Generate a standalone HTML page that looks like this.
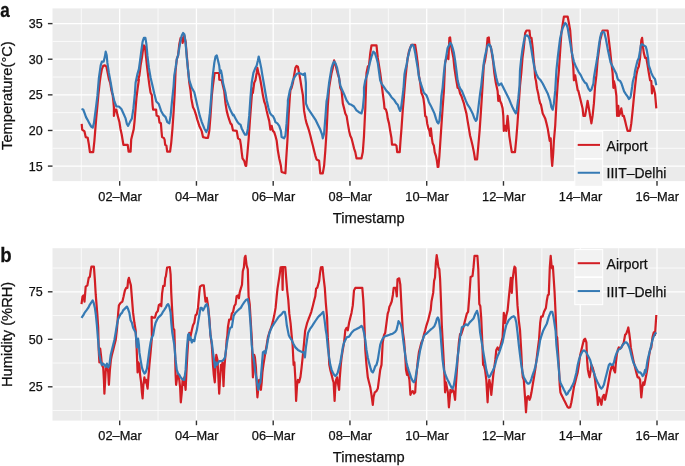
<!DOCTYPE html>
<html><head><meta charset="utf-8"><style>
html,body{margin:0;padding:0;background:#fff;}
svg{display:block;filter:blur(0.3px);}
text{font-family:"Liberation Sans", sans-serif;fill:#111;stroke:#111;stroke-width:0.25px;}
</style></head><body>
<svg width="685" height="466" viewBox="0 0 685 466">
<defs>
<clipPath id="ca"><rect x="52.5" y="8.4" width="632.5" height="172.7"/></clipPath>
<clipPath id="cb"><rect x="52.5" y="248.2" width="632.5" height="172.40000000000003"/></clipPath>
</defs>
<rect x="52.5" y="8.4" width="632.5" height="172.7" fill="#EBEBEB"/>
<line x1="52.5" x2="685.0" y1="148.29" y2="148.29" stroke="#fff" stroke-width="0.75"/>
<line x1="52.5" x2="685.0" y1="112.66" y2="112.66" stroke="#fff" stroke-width="0.75"/>
<line x1="52.5" x2="685.0" y1="77.04" y2="77.04" stroke="#fff" stroke-width="0.75"/>
<line x1="52.5" x2="685.0" y1="41.41" y2="41.41" stroke="#fff" stroke-width="0.75"/>
<line x1="81.30" x2="81.30" y1="8.4" y2="181.1" stroke="#fff" stroke-width="0.75"/>
<line x1="158.06" x2="158.06" y1="8.4" y2="181.1" stroke="#fff" stroke-width="0.75"/>
<line x1="234.82" x2="234.82" y1="8.4" y2="181.1" stroke="#fff" stroke-width="0.75"/>
<line x1="311.58" x2="311.58" y1="8.4" y2="181.1" stroke="#fff" stroke-width="0.75"/>
<line x1="388.34" x2="388.34" y1="8.4" y2="181.1" stroke="#fff" stroke-width="0.75"/>
<line x1="465.10" x2="465.10" y1="8.4" y2="181.1" stroke="#fff" stroke-width="0.75"/>
<line x1="541.86" x2="541.86" y1="8.4" y2="181.1" stroke="#fff" stroke-width="0.75"/>
<line x1="618.62" x2="618.62" y1="8.4" y2="181.1" stroke="#fff" stroke-width="0.75"/>
<line x1="52.5" x2="685.0" y1="166.10" y2="166.10" stroke="#fff" stroke-width="1.3"/>
<line x1="52.5" x2="685.0" y1="130.47" y2="130.47" stroke="#fff" stroke-width="1.3"/>
<line x1="52.5" x2="685.0" y1="94.85" y2="94.85" stroke="#fff" stroke-width="1.3"/>
<line x1="52.5" x2="685.0" y1="59.22" y2="59.22" stroke="#fff" stroke-width="1.3"/>
<line x1="52.5" x2="685.0" y1="23.60" y2="23.60" stroke="#fff" stroke-width="1.3"/>
<line x1="119.68" x2="119.68" y1="8.4" y2="181.1" stroke="#fff" stroke-width="1.3"/>
<line x1="196.44" x2="196.44" y1="8.4" y2="181.1" stroke="#fff" stroke-width="1.3"/>
<line x1="273.20" x2="273.20" y1="8.4" y2="181.1" stroke="#fff" stroke-width="1.3"/>
<line x1="349.96" x2="349.96" y1="8.4" y2="181.1" stroke="#fff" stroke-width="1.3"/>
<line x1="426.72" x2="426.72" y1="8.4" y2="181.1" stroke="#fff" stroke-width="1.3"/>
<line x1="503.48" x2="503.48" y1="8.4" y2="181.1" stroke="#fff" stroke-width="1.3"/>
<line x1="580.24" x2="580.24" y1="8.4" y2="181.1" stroke="#fff" stroke-width="1.3"/>
<line x1="657.00" x2="657.00" y1="8.4" y2="181.1" stroke="#fff" stroke-width="1.3"/>
<rect x="52.5" y="248.2" width="632.5" height="172.40000000000003" fill="#EBEBEB"/>
<line x1="52.5" x2="685.0" y1="410.55" y2="410.55" stroke="#fff" stroke-width="0.75"/>
<line x1="52.5" x2="685.0" y1="363.05" y2="363.05" stroke="#fff" stroke-width="0.75"/>
<line x1="52.5" x2="685.0" y1="315.55" y2="315.55" stroke="#fff" stroke-width="0.75"/>
<line x1="52.5" x2="685.0" y1="268.05" y2="268.05" stroke="#fff" stroke-width="0.75"/>
<line x1="81.30" x2="81.30" y1="248.2" y2="420.6" stroke="#fff" stroke-width="0.75"/>
<line x1="158.06" x2="158.06" y1="248.2" y2="420.6" stroke="#fff" stroke-width="0.75"/>
<line x1="234.82" x2="234.82" y1="248.2" y2="420.6" stroke="#fff" stroke-width="0.75"/>
<line x1="311.58" x2="311.58" y1="248.2" y2="420.6" stroke="#fff" stroke-width="0.75"/>
<line x1="388.34" x2="388.34" y1="248.2" y2="420.6" stroke="#fff" stroke-width="0.75"/>
<line x1="465.10" x2="465.10" y1="248.2" y2="420.6" stroke="#fff" stroke-width="0.75"/>
<line x1="541.86" x2="541.86" y1="248.2" y2="420.6" stroke="#fff" stroke-width="0.75"/>
<line x1="618.62" x2="618.62" y1="248.2" y2="420.6" stroke="#fff" stroke-width="0.75"/>
<line x1="52.5" x2="685.0" y1="386.80" y2="386.80" stroke="#fff" stroke-width="1.3"/>
<line x1="52.5" x2="685.0" y1="339.30" y2="339.30" stroke="#fff" stroke-width="1.3"/>
<line x1="52.5" x2="685.0" y1="291.80" y2="291.80" stroke="#fff" stroke-width="1.3"/>
<line x1="119.68" x2="119.68" y1="248.2" y2="420.6" stroke="#fff" stroke-width="1.3"/>
<line x1="196.44" x2="196.44" y1="248.2" y2="420.6" stroke="#fff" stroke-width="1.3"/>
<line x1="273.20" x2="273.20" y1="248.2" y2="420.6" stroke="#fff" stroke-width="1.3"/>
<line x1="349.96" x2="349.96" y1="248.2" y2="420.6" stroke="#fff" stroke-width="1.3"/>
<line x1="426.72" x2="426.72" y1="248.2" y2="420.6" stroke="#fff" stroke-width="1.3"/>
<line x1="503.48" x2="503.48" y1="248.2" y2="420.6" stroke="#fff" stroke-width="1.3"/>
<line x1="580.24" x2="580.24" y1="248.2" y2="420.6" stroke="#fff" stroke-width="1.3"/>
<line x1="657.00" x2="657.00" y1="248.2" y2="420.6" stroke="#fff" stroke-width="1.3"/>
<g fill="none" stroke-width="2.2" stroke-linejoin="round" clip-path="url(#ca)">
<path d="M81.7,123.9 L82.2,129.6 L84.5,131.4 L85.7,137.1 L87.7,137.8 L88.9,144.6 L89.9,152.1 L93.2,152.1 L94.4,140.8 L96.2,118.4 L97.4,105.9 L98.4,94.7 L99.9,81.0 L100.7,75.4 L101.9,69.1 L103.2,65.9 L104.9,65.4 L106.4,66.6 L107.4,71.6 L108.9,79.1 L110.2,82.8 L111.4,90.3 L112.7,95.3 L113.4,101.5 L113.9,107.8 L113.9,115.9 L114.9,109.7 L116.4,109.7 L117.4,114.6 L119.4,122.0 L120.5,129.0 L121.7,134.5 L123.4,144.8 L127.7,144.8 L128.6,151.7 L130.6,151.7 L131.2,139.6 L132.4,134.5 L133.7,129.3 L134.6,120.8 L136.4,98.4 L137.6,88.5 L138.9,79.7 L138.1,80.3 L139.4,75.4 L140.6,65.4 L141.9,57.9 L143.1,49.2 L143.9,45.4 L144.9,46.7 L145.9,55.4 L146.9,65.4 L148.1,75.4 L149.4,85.3 L150.6,92.8 L151.8,95.0 L152.6,105.3 L153.1,109.6 L156.1,109.6 L156.6,115.6 L158.6,116.5 L159.5,122.5 L160.9,123.3 L161.5,131.1 L162.1,137.1 L163.8,137.9 L164.6,139.6 L165.2,144.8 L166.4,145.6 L167.2,151.7 L170.1,151.7 L171.2,143.1 L172.4,129.3 L173.6,112.2 L174.6,95.0 L175.6,70.4 L176.8,59.1 L178.1,55.4 L179.3,44.2 L180.6,37.9 L181.8,37.4 L182.6,42.9 L183.6,39.2 L184.3,35.4 L185.6,41.7 L186.8,55.4 L188.1,70.4 L189.3,82.8 L190.5,90.3 L191.3,98.4 L193.0,107.2 L194.3,109.7 L196.3,115.9 L197.3,119.6 L199.3,125.9 L200.5,128.4 L201.8,131.4 L203.0,137.1 L205.5,137.8 L208.0,137.8 L209.3,130.9 L210.5,115.9 L211.8,95.9 L213.0,85.0 L214.6,73.0 L219.0,73.0 L219.3,79.7 L221.7,80.3 L223.0,86.0 L224.2,90.9 L225.5,103.4 L226.7,110.9 L228.0,115.9 L229.2,119.6 L230.5,123.4 L231.7,124.6 L233.0,130.4 L236.7,130.9 L238.0,138.3 L240.0,139.6 L241.0,145.8 L241.7,152.1 L242.5,158.3 L244.2,160.8 L245.5,165.8 L246.2,165.8 L247.4,153.3 L248.7,138.3 L249.9,120.9 L251.2,103.4 L252.4,88.5 L252.9,92.8 L254.2,82.8 L255.4,80.3 L256.7,72.9 L257.4,67.9 L258.4,72.9 L259.4,75.4 L260.4,80.3 L261.7,87.8 L262.9,95.3 L264.2,101.5 L265.4,104.7 L266.7,110.9 L267.9,115.9 L269.2,120.9 L270.4,129.6 L271.7,125.9 L272.9,130.9 L274.2,132.1 L275.4,135.8 L276.7,140.8 L277.9,150.8 L279.2,158.3 L280.9,165.8 L281.6,172.0 L285.4,173.3 L286.1,160.8 L287.4,140.8 L288.6,115.9 L289.9,95.9 L290.4,90.3 L291.6,87.8 L292.9,82.8 L294.1,75.4 L295.4,67.9 L296.6,65.9 L297.9,66.6 L299.1,72.9 L300.4,80.3 L301.6,87.8 L302.9,95.3 L304.1,110.9 L305.4,118.4 L306.6,123.4 L307.9,127.1 L309.1,130.9 L310.4,135.8 L311.6,140.8 L312.9,145.8 L314.1,150.8 L315.4,155.8 L316.6,159.5 L319.1,160.8 L320.3,173.3 L322.8,173.3 L324.1,165.8 L325.3,150.8 L326.6,130.9 L327.8,105.9 L329.1,87.8 L330.3,80.3 L331.6,72.9 L332.8,67.9 L334.1,60.4 L335.3,64.1 L336.6,69.1 L337.8,74.1 L339.1,77.8 L340.3,87.8 L341.6,90.9 L342.8,103.4 L344.1,108.4 L345.3,113.4 L346.6,115.9 L347.8,123.4 L349.1,130.9 L350.3,135.8 L351.5,138.3 L352.8,143.3 L354.0,148.3 L355.3,152.1 L356.5,158.3 L361.5,158.3 L362.8,152.1 L364.0,135.8 L365.3,108.4 L366.5,72.9 L367.8,66.6 L369.0,65.4 L370.3,52.9 L371.5,45.4 L376.5,45.4 L377.8,57.9 L380.2,72.9 L381.5,82.8 L382.7,92.8 L384.0,102.8 L384.5,108.4 L386.0,109.7 L387.0,113.4 L387.7,118.4 L389.0,123.4 L390.2,130.9 L391.5,138.3 L392.0,144.6 L395.2,144.6 L396.5,145.8 L397.2,152.1 L399.7,152.1 L400.5,140.8 L401.5,128.4 L402.7,110.9 L404.0,95.9 L405.2,81.0 L406.5,67.9 L407.7,57.9 L408.9,51.7 L410.2,47.9 L411.4,44.9 L415.2,44.9 L416.4,52.9 L417.7,62.9 L418.9,75.4 L420.2,82.8 L421.4,92.8 L422.7,95.9 L423.4,98.4 L424.4,105.9 L425.2,115.9 L426.4,117.1 L427.2,123.4 L428.4,128.4 L429.4,130.9 L430.2,135.8 L430.9,128.4 L431.9,138.3 L432.7,143.3 L433.9,145.8 L434.7,152.1 L435.9,155.8 L436.9,160.8 L437.7,167.0 L438.4,167.0 L439.4,155.8 L440.4,140.8 L441.4,125.9 L442.6,108.4 L443.9,90.9 L445.1,62.9 L446.4,57.9 L447.6,55.4 L448.4,59.1 L449.4,37.9 L450.1,37.4 L450.9,45.4 L451.9,50.4 L453.4,57.9 L454.4,67.9 L455.9,77.8 L457.6,87.8 L458.9,88.5 L460.1,93.4 L461.4,95.9 L462.6,99.7 L463.9,103.4 L465.1,108.4 L466.4,113.4 L467.6,120.9 L468.9,128.4 L470.1,135.8 L471.4,140.8 L472.6,145.8 L473.9,152.1 L475.1,159.5 L477.1,159.5 L478.3,145.8 L479.6,130.9 L480.8,113.4 L482.1,93.4 L483.8,65.4 L485.1,60.4 L486.3,52.9 L487.6,37.9 L488.8,37.4 L489.6,45.4 L490.8,46.7 L491.8,52.9 L493.3,62.9 L494.3,72.9 L495.8,82.8 L497.6,90.9 L498.3,100.9 L499.3,95.9 L500.1,100.9 L501.3,103.4 L502.6,108.4 L503.3,115.9 L503.8,130.9 L505.1,125.9 L506.3,130.9 L507.6,115.9 L508.3,123.4 L509.3,135.8 L510.8,145.8 L511.8,152.1 L515.0,152.1 L516.3,138.3 L517.5,123.4 L518.8,103.4 L520.0,86.0 L521.3,72.9 L522.5,57.9 L523.8,47.9 L525.2,32.9 L526.5,30.5 L529.5,30.5 L530.2,37.9 L531.5,37.9 L532.7,47.9 L533.5,57.9 L534.5,67.9 L535.2,77.8 L536.0,81.0 L537.0,88.5 L538.2,93.4 L539.0,98.4 L540.2,103.4 L541.0,104.7 L542.0,109.7 L542.7,113.4 L544.0,115.9 L545.2,118.4 L546.5,123.4 L547.7,128.4 L548.9,135.8 L549.7,140.8 L550.7,138.3 L551.4,155.8 L552.2,165.8 L553.2,153.3 L553.9,140.8 L555.2,125.9 L556.4,103.4 L557.7,83.5 L558.9,70.4 L560.2,50.4 L561.4,32.9 L562.7,24.2 L563.9,16.7 L567.7,16.7 L568.9,23.0 L570.2,30.5 L570.9,40.4 L571.9,52.9 L573.2,65.4 L573.9,80.3 L575.2,75.4 L576.4,82.8 L577.7,90.3 L578.4,90.9 L580.2,98.4 L581.4,103.4 L582.6,108.4 L583.4,115.9 L585.1,115.9 L586.4,108.4 L587.6,100.9 L588.9,108.4 L590.1,115.9 L591.4,123.4 L592.6,115.9 L593.9,103.4 L595.1,86.0 L596.4,75.4 L597.6,60.4 L598.9,50.4 L600.1,40.4 L601.4,35.4 L602.6,30.5 L607.6,30.5 L608.9,40.4 L610.1,50.4 L611.4,62.9 L612.6,72.9 L613.4,87.8 L613.9,81.0 L615.1,86.0 L616.4,95.9 L617.1,115.9 L618.3,105.9 L618.8,115.9 L620.1,113.4 L621.3,108.4 L622.6,115.9 L623.8,115.9 L625.1,120.9 L626.3,125.9 L627.6,130.9 L630.1,130.9 L631.3,123.4 L632.6,110.9 L633.8,98.4 L635.1,86.0 L636.3,75.4 L637.6,69.1 L638.8,66.6 L640.1,57.9 L641.3,40.4 L642.1,37.9 L643.1,47.9 L643.8,52.9 L645.1,57.9 L646.3,57.9 L647.6,65.4 L648.8,72.9 L650.1,80.3 L651.3,81.0 L652.0,93.4 L652.8,86.0 L653.8,88.5 L655.0,93.4 L656.3,108.4" stroke="#D21E24"/>
<path d="M81.5,109.0 L83.2,109.5 L84.5,112.8 L86.0,117.1 L87.4,119.6 L89.4,123.4 L91.2,126.6 L92.7,127.6 L93.9,123.4 L95.7,109.7 L97.4,95.9 L98.9,77.8 L100.7,65.4 L101.9,61.6 L103.7,61.6 L104.9,56.6 L105.7,51.7 L106.7,55.4 L107.4,62.9 L108.9,72.9 L110.7,82.8 L112.4,92.8 L114.4,101.5 L116.4,106.5 L118.9,106.5 L121.4,109.0 L123.1,112.8 L125.6,118.4 L126.9,123.9 L128.1,125.9 L129.9,122.1 L131.9,118.4 L133.4,108.4 L134.9,93.4 L135.6,82.8 L137.4,74.1 L138.9,69.1 L140.1,60.4 L141.4,50.4 L142.6,41.7 L143.9,37.9 L145.4,37.9 L146.4,44.2 L147.4,55.4 L148.9,67.9 L150.6,77.8 L152.4,85.3 L154.4,94.1 L156.3,101.5 L158.8,104.0 L161.1,110.9 L163.1,114.6 L165.6,117.1 L167.3,122.1 L169.3,123.4 L170.6,115.9 L171.8,103.4 L173.6,86.0 L174.3,75.4 L175.6,67.9 L176.8,59.1 L178.1,55.4 L179.3,47.9 L180.6,40.4 L181.8,35.4 L183.1,32.9 L184.3,34.2 L185.6,42.9 L186.8,57.9 L188.1,70.4 L189.3,80.3 L191.8,87.8 L194.3,92.2 L196.3,100.9 L198.0,108.4 L199.8,115.9 L201.8,122.1 L204.3,128.4 L206.3,132.1 L208.0,128.4 L209.8,113.4 L211.3,95.9 L212.5,77.8 L214.3,62.9 L215.5,56.6 L216.8,55.4 L219.2,65.4 L220.0,72.9 L221.0,70.4 L222.0,75.4 L223.0,82.8 L224.2,87.8 L225.5,92.8 L226.7,100.3 L228.5,105.3 L230.5,110.3 L233.0,115.3 L233.5,114.6 L235.5,118.4 L237.5,122.1 L239.2,123.9 L240.5,124.6 L241.7,128.4 L243.5,132.1 L245.0,134.6 L246.7,134.6 L247.9,128.4 L249.2,115.9 L250.4,98.4 L251.7,82.8 L253.4,72.9 L255.4,67.9 L256.7,65.4 L257.9,60.4 L258.7,56.6 L259.9,61.6 L261.2,67.9 L262.4,75.4 L263.7,82.8 L265.4,92.8 L266.7,100.3 L268.4,107.8 L269.9,112.8 L271.7,115.3 L272.9,115.9 L274.2,118.4 L275.4,122.1 L277.4,123.4 L279.2,125.9 L280.9,130.9 L281.6,137.1 L284.1,138.3 L285.4,135.8 L286.6,123.4 L287.9,103.4 L287.9,100.3 L289.9,90.3 L291.6,85.3 L292.9,80.3 L294.9,76.6 L296.6,74.1 L299.1,72.9 L301.6,74.1 L303.4,74.9 L304.9,73.4 L305.9,82.8 L305.9,103.4 L307.9,108.4 L310.4,112.2 L312.9,115.9 L315.4,119.6 L317.8,124.6 L320.3,129.6 L322.1,134.6 L322.8,138.3 L324.1,133.4 L325.3,118.4 L326.6,100.9 L327.3,97.8 L329.1,82.8 L330.3,75.4 L331.6,67.9 L332.8,64.1 L334.1,61.6 L335.3,62.9 L337.1,67.9 L338.6,75.4 L340.3,85.3 L342.3,90.3 L344.1,94.1 L346.6,100.3 L349.1,104.0 L351.5,104.8 L354.0,106.5 L356.5,110.3 L359.0,112.2 L361.5,113.4 L362.8,108.4 L364.0,95.9 L364.0,87.8 L365.3,80.3 L367.8,72.9 L369.8,62.9 L371.5,56.6 L373.3,51.7 L374.8,52.9 L376.5,57.9 L377.8,62.9 L380.2,80.3 L381.5,83.5 L384.0,87.2 L386.5,90.9 L389.0,93.4 L391.5,97.2 L394.0,99.7 L396.0,102.9 L397.7,104.7 L399.0,108.4 L400.2,110.9 L401.0,108.4 L402.0,100.9 L403.5,88.5 L404.5,74.1 L405.2,70.4 L406.5,65.4 L407.7,57.9 L408.9,52.9 L410.2,47.9 L411.4,45.4 L412.7,44.9 L413.9,46.7 L415.2,52.9 L416.4,60.4 L417.7,67.9 L418.9,76.6 L420.2,81.6 L421.4,85.3 L423.9,92.8 L426.4,95.3 L427.7,98.4 L428.9,102.2 L430.9,105.9 L432.7,109.7 L434.4,113.4 L435.9,118.4 L437.2,122.1 L438.4,123.4 L439.4,120.9 L440.4,110.9 L441.4,95.9 L442.6,87.8 L443.9,72.9 L445.1,62.9 L446.4,55.4 L447.6,47.9 L448.9,45.4 L450.1,42.9 L451.4,44.2 L452.6,47.9 L453.9,52.9 L455.1,60.4 L456.4,70.4 L457.6,80.3 L458.9,85.3 L460.1,88.5 L461.9,90.9 L463.9,95.9 L465.9,100.9 L467.6,104.7 L470.1,108.4 L472.6,113.4 L474.4,118.4 L475.9,120.9 L476.8,119.6 L478.3,108.4 L480.1,93.4 L481.3,85.3 L482.6,72.9 L483.8,62.9 L485.1,55.4 L486.3,50.4 L487.6,45.4 L488.8,44.2 L490.1,45.4 L491.3,49.2 L492.6,55.4 L493.8,64.1 L495.1,71.6 L496.3,77.8 L497.6,82.8 L498.8,85.3 L501.3,83.5 L503.8,88.5 L506.3,93.4 L508.8,98.4 L510.8,103.4 L512.5,107.2 L514.3,110.9 L515.8,113.4 L516.8,109.7 L518.3,98.4 L519.5,86.0 L520.0,70.4 L521.3,57.9 L522.5,49.2 L523.8,41.7 L525.2,35.9 L527.0,35.4 L528.5,36.7 L529.5,39.2 L530.2,42.9 L531.5,50.4 L532.7,57.9 L534.0,65.4 L535.2,70.4 L536.5,74.1 L538.2,77.8 L540.2,79.7 L542.7,83.5 L545.2,88.5 L547.7,93.4 L550.2,100.9 L551.4,107.2 L552.7,109.7 L553.9,103.4 L555.2,90.9 L556.4,70.4 L557.7,57.9 L558.9,47.9 L560.2,37.9 L561.4,32.9 L562.7,28.0 L563.9,25.5 L565.2,23.0 L566.4,24.2 L567.7,28.0 L568.9,35.4 L570.2,42.9 L571.4,50.4 L572.7,56.6 L573.9,61.6 L575.9,66.6 L578.4,71.6 L580.9,75.4 L582.6,79.1 L585.1,82.8 L586.4,83.5 L588.4,88.5 L590.1,90.9 L591.4,89.7 L593.4,83.5 L593.9,77.8 L595.1,70.4 L596.4,62.9 L597.6,55.4 L598.9,45.4 L600.1,37.9 L601.4,32.9 L603.4,31.7 L604.4,32.9 L605.9,39.0 L607.7,48.9 L610.6,62.4 L612.5,66.3 L614.5,70.2 L616.4,74.0 L617.5,78.5 L618.3,79.8 L620.3,81.2 L621.5,83.5 L622.2,85.6 L624.1,91.4 L626.0,94.3 L628.0,97.2 L628.9,99.1 L630.3,97.5 L630.9,95.2 L632.2,86.5 L632.8,81.7 L634.3,76.0 L635.1,70.4 L636.3,65.4 L637.6,60.4 L638.8,57.9 L640.1,50.4 L640.8,45.4 L641.8,44.2 L643.8,45.4 L645.8,46.7 L646.8,50.4 L648.1,57.9 L648.8,65.4 L650.1,69.1 L651.3,72.9 L652.5,75.4 L653.8,77.8 L655.0,79.1 L656.3,85.3" stroke="#357AB4"/>
</g>
<g fill="none" stroke-width="2.2" stroke-linejoin="round" clip-path="url(#cb)">
<path d="M81.5,304.1 L82.5,296.6 L83.7,295.4 L84.5,301.6 L85.7,286.7 L87.4,285.4 L88.7,277.9 L89.9,276.7 L90.7,270.5 L91.4,266.7 L93.9,266.7 L94.9,280.4 L95.7,294.2 L96.4,302.9 L97.4,315.4 L98.2,327.8 L98.7,349.9 L99.4,362.4 L100.2,348.7 L101.2,357.4 L101.9,364.9 L103.2,367.4 L103.9,379.8 L104.4,393.6 L105.2,379.8 L105.9,367.4 L106.9,364.9 L108.2,372.4 L108.9,384.8 L109.9,369.9 L110.9,359.9 L111.9,354.9 L113.2,349.9 L114.4,344.9 L115.7,339.9 L116.9,329.9 L118.2,312.9 L118.9,305.4 L120.6,302.9 L122.4,301.6 L123.6,296.6 L124.9,290.4 L126.1,287.9 L127.4,287.9 L128.1,280.4 L128.9,277.9 L129.9,281.7 L130.9,285.4 L131.9,297.9 L133.1,312.9 L134.4,322.8 L135.6,329.9 L136.4,342.4 L136.9,354.9 L137.6,372.4 L138.4,362.4 L139.4,364.9 L140.1,374.8 L141.1,382.3 L141.9,392.3 L142.6,398.5 L143.4,384.8 L144.4,377.3 L145.1,382.3 L146.1,379.8 L146.9,384.8 L147.6,388.6 L148.4,377.3 L149.4,364.9 L150.6,352.4 L151.9,337.4 L151.6,316.8 L153.0,317.7 L154.9,317.7 L156.3,312.9 L157.8,311.0 L158.8,305.2 L160.1,304.2 L161.3,306.2 L162.1,293.6 L163.2,285.9 L164.6,285.9 L165.2,278.2 L165.9,276.2 L167.1,267.5 L169.8,267.0 L170.6,274.3 L171.3,293.6 L172.3,312.9 L173.3,328.4 L174.3,329.9 L175.1,354.9 L175.6,374.8 L176.1,384.8 L176.8,379.8 L178.1,374.8 L179.3,379.8 L180.1,387.3 L180.8,402.3 L181.8,392.3 L182.6,379.8 L183.3,384.8 L184.3,377.3 L185.6,389.8 L186.3,374.8 L187.3,354.9 L188.1,342.4 L189.3,332.8 L190.5,336.6 L191.8,330.3 L193.0,325.3 L194.3,322.8 L195.5,315.4 L196.8,314.1 L198.0,307.9 L199.3,292.9 L200.0,286.7 L201.8,285.4 L203.8,285.4 L204.8,295.4 L205.5,301.6 L206.8,297.9 L208.0,305.4 L209.3,317.8 L210.5,335.3 L211.8,344.9 L213.0,364.9 L213.8,374.8 L214.8,382.3 L215.5,367.4 L216.3,354.9 L217.5,359.9 L219.2,393.6 L220.0,379.8 L221.0,364.9 L221.7,369.9 L222.5,362.4 L223.5,386.1 L224.2,369.9 L225.0,359.9 L226.0,349.9 L226.7,339.9 L227.3,336.0 L227.9,327.2 L229.2,319.5 L230.8,319.5 L231.8,313.7 L233.1,311.8 L234.3,306.0 L235.6,304.1 L236.6,296.3 L238.1,295.4 L238.9,298.3 L239.7,292.5 L240.8,288.6 L242.0,284.7 L242.8,271.2 L243.9,267.4 L244.7,257.7 L245.5,255.8 L246.6,265.4 L247.8,269.3 L248.6,296.3 L249.7,304.1 L251.1,327.2 L252.0,342.0 L252.4,362.4 L252.9,377.3 L253.7,367.4 L254.2,354.9 L254.9,357.4 L255.9,367.4 L256.7,384.8 L257.4,397.3 L258.4,387.3 L259.2,379.8 L259.9,387.3 L260.9,389.8 L261.7,382.3 L262.4,372.4 L263.4,364.9 L264.2,359.9 L265.4,352.4 L266.7,344.9 L267.9,337.4 L269.8,331.1 L271.3,327.2 L272.9,321.4 L274.2,315.6 L275.6,307.9 L276.7,296.3 L277.5,288.6 L278.7,280.9 L279.6,275.1 L280.6,267.4 L282.2,267.2 L282.6,290.0 L283.0,267.2 L285.3,267.2 L286.4,280.9 L287.2,290.5 L288.3,300.2 L289.3,313.7 L290.6,323.4 L291.6,334.9 L292.6,345.0 L293.6,364.9 L294.4,362.4 L295.4,379.8 L296.1,401.0 L297.1,384.8 L297.9,379.8 L299.1,382.3 L300.4,377.3 L301.6,367.4 L302.9,354.9 L304.1,342.4 L305.1,331.1 L307.0,323.4 L308.4,319.5 L309.9,315.6 L311.3,311.8 L312.8,306.0 L314.2,300.2 L315.3,296.3 L316.1,288.6 L317.3,287.6 L318.1,284.7 L319.2,280.9 L320.0,273.2 L320.9,267.4 L322.5,267.0 L323.5,277.0 L324.8,287.9 L325.8,302.9 L327.1,317.8 L327.8,337.4 L328.6,349.9 L329.3,364.9 L330.3,369.9 L331.6,374.8 L332.8,379.8 L333.6,382.3 L334.6,401.0 L335.3,387.3 L336.1,379.8 L337.1,377.3 L337.8,382.3 L339.1,389.8 L339.8,377.3 L340.8,364.9 L341.6,357.4 L342.8,349.9 L344.1,342.4 L345.3,330.3 L346.6,327.8 L347.8,330.3 L349.1,322.8 L350.3,317.8 L351.5,312.9 L352.8,305.4 L354.0,290.4 L355.3,287.9 L362.3,287.9 L363.3,300.4 L364.0,312.9 L365.3,349.9 L366.5,364.9 L367.8,377.3 L369.0,382.3 L370.3,387.3 L371.5,394.8 L372.8,404.8 L373.5,397.3 L374.8,392.3 L376.5,391.1 L377.8,388.6 L380.2,369.9 L381.5,364.9 L382.7,342.8 L384.0,335.3 L385.2,332.8 L386.5,322.8 L387.7,313.6 L388.6,311.0 L389.4,306.7 L390.3,305.0 L391.7,301.5 L392.9,294.7 L393.7,287.8 L395.8,287.8 L396.8,296.4 L397.5,279.2 L399.2,278.3 L400.3,284.4 L401.5,306.7 L402.3,322.0 L403.0,332.8 L404.0,339.9 L405.2,354.9 L406.0,369.9 L407.0,374.8 L407.7,369.9 L408.4,374.8 L409.4,379.8 L410.4,394.8 L411.4,392.3 L412.7,391.1 L413.9,393.6 L415.2,392.3 L415.9,379.8 L416.9,369.9 L417.9,359.9 L418.9,352.4 L420.2,347.4 L421.4,342.4 L422.7,339.9 L423.9,334.9 L425.2,330.3 L426.4,325.6 L428.1,320.4 L429.8,313.6 L430.7,310.1 L431.5,301.5 L433.2,292.9 L434.1,280.9 L435.0,277.5 L435.8,263.7 L436.7,255.2 L437.5,260.3 L438.4,267.2 L439.3,268.9 L440.1,279.2 L441.0,301.5 L441.8,325.0 L443.4,354.9 L444.4,374.8 L445.1,392.3 L445.9,382.3 L446.9,387.3 L447.9,392.3 L448.9,407.3 L449.6,399.8 L450.4,389.8 L451.4,392.3 L452.6,389.8 L453.9,392.3 L455.1,399.8 L455.9,384.8 L456.9,369.9 L457.9,354.9 L458.9,342.4 L460.1,334.0 L461.0,334.9 L462.9,329.2 L464.8,321.4 L466.8,313.7 L468.1,311.8 L469.3,296.3 L470.6,277.0 L472.5,276.1 L473.5,267.4 L474.5,255.8 L477.4,255.8 L478.3,269.3 L479.3,304.1 L480.3,306.0 L481.2,317.6 L482.2,340.0 L483.1,364.9 L483.8,364.9 L485.1,369.9 L486.3,379.8 L487.6,402.3 L488.3,387.3 L489.3,379.8 L490.3,384.8 L491.3,394.8 L492.3,384.8 L493.3,374.8 L494.3,367.4 L495.3,359.9 L496.3,349.9 L497.6,347.4 L498.8,349.9 L500.1,347.4 L501.3,342.4 L502.6,337.4 L503.8,312.9 L505.1,322.8 L506.3,315.4 L507.6,310.4 L508.8,297.9 L510.1,285.4 L510.8,277.9 L511.8,292.9 L512.5,280.4 L513.8,270.5 L514.5,266.7 L515.5,268.0 L516.3,282.9 L517.5,305.4 L518.8,320.3 L520.0,329.9 L521.3,352.4 L522.0,367.4 L522.8,377.3 L523.8,379.8 L525.2,399.8 L526.0,412.3 L527.0,397.3 L528.2,396.1 L529.5,399.8 L530.5,397.3 L531.5,392.3 L532.7,384.8 L534.0,377.3 L535.2,369.9 L536.5,359.9 L537.7,349.9 L539.0,339.9 L540.2,322.8 L541.1,316.6 L542.6,316.6 L544.0,311.8 L545.9,307.9 L546.9,300.2 L547.8,295.4 L548.8,294.4 L549.8,267.4 L550.7,255.8 L551.7,267.4 L552.3,268.3 L552.9,266.4 L553.6,277.0 L554.6,292.5 L555.6,313.7 L556.5,336.0 L557.2,337.4 L558.2,354.9 L558.9,367.4 L559.7,384.8 L560.4,392.3 L561.4,394.8 L562.7,397.3 L563.9,399.8 L565.2,402.3 L566.4,404.8 L567.7,407.3 L568.9,407.8 L570.2,407.3 L571.4,402.3 L572.7,394.8 L573.9,387.3 L575.2,382.3 L576.4,377.3 L577.7,372.4 L578.9,364.9 L580.2,354.9 L581.4,349.9 L582.6,344.9 L583.9,339.9 L585.1,338.7 L586.4,342.4 L587.1,359.9 L587.9,369.9 L588.9,374.8 L589.6,377.3 L590.4,372.4 L591.4,364.9 L592.6,367.4 L593.9,372.4 L595.1,379.8 L595.9,387.3 L596.9,392.3 L597.9,404.8 L598.9,397.3 L600.1,399.8 L601.4,404.8 L602.6,397.3 L603.9,394.8 L605.1,399.8 L606.4,393.6 L607.6,387.3 L608.9,379.8 L610.1,372.4 L611.4,367.4 L612.6,364.9 L613.9,369.9 L615.1,372.4 L615.9,362.4 L616.8,354.9 L617.8,349.9 L618.8,347.4 L620.1,348.7 L621.3,347.4 L622.6,344.9 L623.8,342.4 L625.1,334.9 L626.3,333.7 L627.6,329.9 L628.3,327.5 L629.3,333.7 L630.1,339.9 L630.8,347.4 L631.8,352.4 L632.8,357.4 L633.8,362.4 L635.1,367.4 L636.3,372.4 L637.6,377.3 L638.8,377.3 L640.1,379.8 L641.3,397.3 L642.3,387.3 L643.3,382.3 L644.3,384.8 L645.3,379.8 L646.3,374.8 L647.6,367.4 L648.8,357.4 L650.1,349.9 L651.3,347.4 L652.5,337.4 L653.8,332.4 L655.0,334.9 L656.3,315.0" stroke="#D21E24"/>
<path d="M81.5,317.8 L83.2,315.4 L84.5,312.9 L86.4,310.4 L88.2,307.9 L89.4,305.4 L90.7,303.4 L91.9,301.6 L92.7,300.4 L93.7,302.9 L94.9,307.9 L95.9,315.4 L96.9,325.3 L97.9,337.8 L99.4,354.9 L100.7,361.1 L101.9,364.9 L103.2,363.6 L104.4,364.9 L105.7,366.9 L106.9,363.6 L108.2,367.4 L109.4,364.9 L110.7,354.9 L111.9,349.9 L113.2,344.9 L114.4,339.9 L115.7,332.4 L116.9,325.0 L118.2,319.1 L119.4,316.6 L120.6,314.1 L121.9,312.9 L123.1,310.4 L124.4,309.1 L125.6,307.9 L126.9,306.6 L128.1,309.1 L129.4,312.9 L130.6,320.3 L131.9,322.8 L133.1,327.8 L134.4,330.3 L135.6,332.4 L136.9,347.4 L138.1,338.7 L138.9,344.9 L139.4,352.4 L140.6,359.9 L141.9,367.4 L143.1,371.1 L144.4,373.6 L145.6,372.4 L146.9,368.6 L148.1,359.9 L149.4,349.9 L150.6,342.4 L151.9,337.4 L153.1,335.3 L154.4,327.8 L155.6,322.8 L156.8,320.3 L158.1,317.8 L159.3,316.6 L160.6,315.4 L161.8,314.1 L163.1,311.6 L164.3,309.9 L165.6,307.9 L166.8,305.4 L168.1,304.1 L169.3,306.6 L170.6,312.9 L171.3,322.8 L172.3,332.8 L174.3,344.9 L175.6,359.9 L176.8,369.9 L178.1,373.6 L179.3,374.8 L180.6,377.3 L181.8,378.6 L183.1,379.8 L184.3,379.8 L185.6,369.9 L186.8,349.9 L188.1,334.9 L188.8,333.7 L189.8,339.9 L190.5,337.4 L191.8,342.4 L193.0,339.9 L194.3,341.2 L195.5,334.9 L196.8,330.3 L198.0,322.8 L199.3,315.4 L200.5,307.9 L201.8,307.9 L203.0,310.4 L204.3,307.9 L205.5,305.4 L206.8,304.1 L208.0,307.9 L209.3,320.3 L210.5,335.3 L211.8,342.4 L213.0,352.4 L214.3,362.4 L215.0,367.4 L215.8,362.4 L216.8,364.9 L219.2,361.1 L221.7,361.1 L223.5,359.9 L225.0,357.4 L226.0,349.9 L226.7,344.9 L227.5,339.9 L228.5,334.9 L229.5,329.9 L230.5,327.5 L231.8,327.2 L233.7,315.6 L235.6,312.7 L237.5,310.8 L239.5,308.9 L240.8,307.9 L242.4,305.0 L244.3,302.1 L246.2,299.8 L247.8,299.2 L249.1,306.0 L250.5,323.4 L251.7,344.9 L252.9,354.9 L254.2,362.4 L255.4,372.4 L256.7,379.8 L257.4,384.8 L258.4,389.8 L259.2,384.8 L260.4,382.3 L261.7,367.4 L262.9,352.4 L264.2,351.2 L265.4,353.6 L266.7,347.4 L267.9,339.9 L269.4,333.0 L270.9,329.2 L272.3,326.3 L274.2,323.4 L276.2,320.5 L278.1,317.6 L280.0,315.6 L282.0,313.7 L283.3,311.8 L284.8,311.8 L285.8,316.6 L286.8,325.3 L288.7,334.9 L289.9,337.4 L291.6,339.9 L293.4,343.7 L295.4,347.4 L297.9,349.9 L300.4,351.2 L302.9,352.4 L304.1,352.4 L304.9,357.4 L305.9,347.4 L308.0,333.0 L309.9,329.2 L311.9,326.3 L313.8,323.4 L315.7,320.5 L317.7,317.6 L319.6,315.6 L321.5,313.7 L323.3,311.8 L324.6,320.3 L325.8,330.3 L326.6,334.9 L327.8,347.4 L329.1,357.4 L330.3,364.9 L331.6,369.9 L332.8,372.4 L334.1,374.8 L335.3,376.1 L336.6,374.8 L337.8,372.4 L339.1,367.4 L340.3,362.4 L341.6,354.9 L342.8,347.4 L344.1,342.4 L346.6,337.4 L349.1,336.6 L351.5,332.8 L354.0,330.3 L356.5,329.1 L359.0,327.8 L361.5,325.8 L362.8,327.8 L364.0,332.8 L365.3,339.9 L366.5,349.9 L367.8,357.4 L369.0,362.4 L370.3,367.4 L371.5,371.1 L372.8,372.4 L374.0,369.9 L375.3,366.1 L376.5,364.9 L377.8,359.9 L380.2,344.9 L381.5,341.2 L382.7,338.7 L384.0,336.9 L385.2,336.2 L387.7,335.4 L390.2,334.4 L392.7,333.7 L395.2,331.9 L396.5,329.9 L397.7,325.0 L398.5,321.2 L399.5,322.5 L401.0,325.0 L402.0,329.9 L403.5,342.4 L405.2,354.9 L406.5,362.4 L407.7,367.4 L408.9,371.1 L410.2,374.8 L411.4,378.6 L412.7,381.1 L413.9,382.3 L415.2,379.8 L416.4,372.4 L417.7,364.9 L418.9,357.4 L420.2,349.9 L421.4,344.9 L422.7,339.9 L423.9,336.2 L425.2,334.4 L426.4,333.7 L427.7,332.4 L428.9,331.2 L430.9,329.4 L432.7,328.0 L434.4,326.2 L435.9,322.5 L436.9,318.7 L437.9,317.5 L438.9,320.0 L440.2,329.9 L441.4,344.9 L442.6,359.9 L443.9,369.9 L445.1,373.6 L446.4,377.3 L447.6,379.8 L448.9,382.3 L450.1,384.8 L451.4,387.3 L452.6,388.6 L453.9,384.8 L455.1,377.3 L456.4,367.4 L457.6,357.4 L458.9,347.4 L460.1,337.4 L461.9,327.2 L463.9,326.3 L465.8,324.3 L467.7,325.3 L469.7,322.4 L471.6,320.5 L473.5,318.5 L475.4,313.7 L477.0,310.8 L478.3,315.6 L479.3,323.4 L480.1,332.4 L481.3,339.9 L482.6,347.4 L483.8,354.9 L485.1,362.4 L486.3,369.9 L487.6,374.8 L488.8,377.3 L490.1,376.1 L491.3,373.6 L492.6,371.1 L493.8,368.6 L495.1,364.9 L496.3,359.9 L497.6,356.1 L498.8,353.6 L500.1,349.9 L501.3,346.2 L502.6,342.4 L503.8,336.2 L505.1,329.9 L506.3,325.0 L507.6,322.5 L508.8,320.0 L510.1,318.7 L511.3,317.5 L512.5,316.7 L513.8,316.2 L515.0,317.5 L516.3,322.5 L517.5,332.4 L518.8,344.9 L520.0,354.9 L521.3,364.9 L522.5,372.4 L523.8,377.3 L525.2,379.8 L526.5,382.3 L527.7,383.6 L529.0,383.6 L530.2,382.3 L531.5,378.6 L532.7,374.8 L534.0,371.1 L535.2,367.4 L536.5,361.1 L537.7,354.9 L539.0,347.4 L540.2,339.9 L541.1,336.9 L543.0,331.1 L544.9,327.2 L546.9,323.4 L548.8,316.6 L550.7,311.8 L552.3,311.8 L553.6,317.6 L555.6,331.1 L556.4,344.9 L557.7,357.4 L558.9,369.9 L559.7,379.8 L560.4,382.3 L561.4,384.8 L562.7,387.3 L563.9,389.8 L565.2,392.3 L566.4,394.8 L567.7,393.6 L568.9,391.1 L570.2,389.8 L571.4,387.3 L572.7,384.8 L573.9,382.3 L575.2,377.3 L576.4,372.4 L577.7,364.9 L578.9,359.9 L580.2,356.1 L581.4,353.6 L582.6,351.2 L583.9,350.4 L585.1,351.2 L586.4,352.4 L587.6,354.9 L588.9,357.4 L590.1,359.9 L591.4,364.9 L592.6,369.9 L593.9,372.4 L595.1,376.1 L596.4,379.8 L597.6,382.3 L598.9,384.8 L600.1,387.3 L601.4,388.6 L602.6,387.3 L603.9,384.8 L605.1,379.8 L606.4,374.8 L607.6,369.9 L608.9,364.9 L610.1,363.6 L611.4,364.9 L612.6,364.9 L613.9,362.4 L615.1,357.4 L616.4,353.6 L617.6,351.2 L618.8,349.4 L620.1,348.7 L621.3,347.4 L622.6,344.9 L623.8,343.7 L625.1,342.4 L626.3,342.4 L627.6,343.7 L628.8,346.2 L630.1,349.9 L631.3,354.9 L632.6,359.9 L633.8,363.6 L635.1,366.1 L636.3,368.6 L637.6,371.1 L638.8,372.4 L640.1,372.4 L641.3,373.6 L642.6,376.1 L643.8,374.8 L645.1,369.9 L645.8,372.4 L646.8,364.9 L647.6,359.9 L648.8,354.9 L650.1,349.9 L651.3,344.9 L652.5,339.9 L653.8,336.2 L655.0,333.7 L656.3,332.4" stroke="#357AB4"/>
</g>
<line x1="119.68" x2="119.68" y1="181.1" y2="185.7" stroke="#333" stroke-width="1.4"/>
<text x="119.98" y="200.90" text-anchor="middle" font-size="12.8">02–Mar</text>
<line x1="196.44" x2="196.44" y1="181.1" y2="185.7" stroke="#333" stroke-width="1.4"/>
<text x="196.74" y="200.90" text-anchor="middle" font-size="12.8">04–Mar</text>
<line x1="273.20" x2="273.20" y1="181.1" y2="185.7" stroke="#333" stroke-width="1.4"/>
<text x="273.50" y="200.90" text-anchor="middle" font-size="12.8">06–Mar</text>
<line x1="349.96" x2="349.96" y1="181.1" y2="185.7" stroke="#333" stroke-width="1.4"/>
<text x="350.26" y="200.90" text-anchor="middle" font-size="12.8">08–Mar</text>
<line x1="426.72" x2="426.72" y1="181.1" y2="185.7" stroke="#333" stroke-width="1.4"/>
<text x="427.02" y="200.90" text-anchor="middle" font-size="12.8">10–Mar</text>
<line x1="503.48" x2="503.48" y1="181.1" y2="185.7" stroke="#333" stroke-width="1.4"/>
<text x="503.78" y="200.90" text-anchor="middle" font-size="12.8">12–Mar</text>
<line x1="580.24" x2="580.24" y1="181.1" y2="185.7" stroke="#333" stroke-width="1.4"/>
<text x="580.54" y="200.90" text-anchor="middle" font-size="12.8">14–Mar</text>
<line x1="657.00" x2="657.00" y1="181.1" y2="185.7" stroke="#333" stroke-width="1.4"/>
<text x="657.30" y="200.90" text-anchor="middle" font-size="12.8">16–Mar</text>
<line x1="119.68" x2="119.68" y1="420.6" y2="425.20000000000005" stroke="#333" stroke-width="1.4"/>
<text x="119.98" y="440.40" text-anchor="middle" font-size="12.8">02–Mar</text>
<line x1="196.44" x2="196.44" y1="420.6" y2="425.20000000000005" stroke="#333" stroke-width="1.4"/>
<text x="196.74" y="440.40" text-anchor="middle" font-size="12.8">04–Mar</text>
<line x1="273.20" x2="273.20" y1="420.6" y2="425.20000000000005" stroke="#333" stroke-width="1.4"/>
<text x="273.50" y="440.40" text-anchor="middle" font-size="12.8">06–Mar</text>
<line x1="349.96" x2="349.96" y1="420.6" y2="425.20000000000005" stroke="#333" stroke-width="1.4"/>
<text x="350.26" y="440.40" text-anchor="middle" font-size="12.8">08–Mar</text>
<line x1="426.72" x2="426.72" y1="420.6" y2="425.20000000000005" stroke="#333" stroke-width="1.4"/>
<text x="427.02" y="440.40" text-anchor="middle" font-size="12.8">10–Mar</text>
<line x1="503.48" x2="503.48" y1="420.6" y2="425.20000000000005" stroke="#333" stroke-width="1.4"/>
<text x="503.78" y="440.40" text-anchor="middle" font-size="12.8">12–Mar</text>
<line x1="580.24" x2="580.24" y1="420.6" y2="425.20000000000005" stroke="#333" stroke-width="1.4"/>
<text x="580.54" y="440.40" text-anchor="middle" font-size="12.8">14–Mar</text>
<line x1="657.00" x2="657.00" y1="420.6" y2="425.20000000000005" stroke="#333" stroke-width="1.4"/>
<text x="657.30" y="440.40" text-anchor="middle" font-size="12.8">16–Mar</text>
<line x1="47.9" x2="52.5" y1="166.10" y2="166.10" stroke="#333" stroke-width="1.4"/>
<text x="42.6" y="170.55" text-anchor="end" font-size="12.5">15</text>
<line x1="47.9" x2="52.5" y1="130.47" y2="130.47" stroke="#333" stroke-width="1.4"/>
<text x="42.6" y="134.92" text-anchor="end" font-size="12.5">20</text>
<line x1="47.9" x2="52.5" y1="94.85" y2="94.85" stroke="#333" stroke-width="1.4"/>
<text x="42.6" y="99.30" text-anchor="end" font-size="12.5">25</text>
<line x1="47.9" x2="52.5" y1="59.22" y2="59.22" stroke="#333" stroke-width="1.4"/>
<text x="42.6" y="63.67" text-anchor="end" font-size="12.5">30</text>
<line x1="47.9" x2="52.5" y1="23.60" y2="23.60" stroke="#333" stroke-width="1.4"/>
<text x="42.6" y="28.05" text-anchor="end" font-size="12.5">35</text>
<line x1="47.9" x2="52.5" y1="386.80" y2="386.80" stroke="#333" stroke-width="1.4"/>
<text x="42.6" y="391.25" text-anchor="end" font-size="12.5">25</text>
<line x1="47.9" x2="52.5" y1="339.30" y2="339.30" stroke="#333" stroke-width="1.4"/>
<text x="42.6" y="343.75" text-anchor="end" font-size="12.5">50</text>
<line x1="47.9" x2="52.5" y1="291.80" y2="291.80" stroke="#333" stroke-width="1.4"/>
<text x="42.6" y="296.25" text-anchor="end" font-size="12.5">75</text>
<rect x="574.8" y="131.30" width="27.90" height="27.20" fill="#F2F2F2" stroke="#fff" stroke-width="1"/>
<line x1="577.7" x2="600" y1="144.90" y2="144.90" stroke="#D21E24" stroke-width="2"/>
<text x="606.6" y="150.50" font-size="13.95">Airport</text>
<rect x="574.8" y="159.15" width="27.90" height="27.20" fill="#F2F2F2" stroke="#fff" stroke-width="1"/>
<line x1="577.7" x2="600" y1="172.75" y2="172.75" stroke="#357AB4" stroke-width="2"/>
<text x="606.6" y="178.35" font-size="13.95">IIIT–Delhi</text>
<rect x="574.8" y="249.60" width="27.90" height="27.20" fill="#F2F2F2" stroke="#fff" stroke-width="1"/>
<line x1="577.7" x2="600" y1="263.20" y2="263.20" stroke="#D21E24" stroke-width="2"/>
<text x="606.6" y="268.80" font-size="13.95">Airport</text>
<rect x="574.8" y="277.45" width="27.90" height="27.20" fill="#F2F2F2" stroke="#fff" stroke-width="1"/>
<line x1="577.7" x2="600" y1="291.05" y2="291.05" stroke="#357AB4" stroke-width="2"/>
<text x="606.6" y="296.65" font-size="13.95">IIIT–Delhi</text>
<text x="368.75" y="222.70" text-anchor="middle" font-size="14.65">Timestamp</text>
<text x="368.75" y="462.20" text-anchor="middle" font-size="14.65">Timestamp</text>
<text transform="translate(12.2,95.6) rotate(-90)" text-anchor="middle" font-size="14.7">Temperature(°C)</text>
<text transform="translate(12.2,334.4) rotate(-90)" text-anchor="middle" font-size="14.7">Humidity (%RH)</text>
<text transform="translate(0.3,16.6) scale(0.9,1.05)" font-size="19" font-weight="bold">a</text>
<text transform="translate(0.3,261.8) scale(0.98,1.045)" font-size="19" font-weight="bold">b</text>
</svg>
</body></html>
